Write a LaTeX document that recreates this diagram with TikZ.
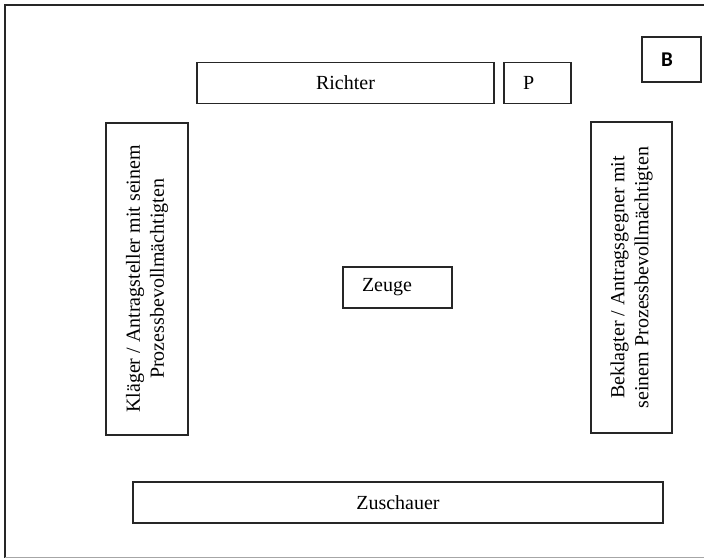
\documentclass[tikz,border=0pt]{standalone}
\usepackage{fontspec}
\setmainfont{Liberation Serif}
\newfontfamily\labelfont{Carlito}
\begin{document}
\begin{tikzpicture}[x=1pt, y=-1pt, line cap=rect, line join=miter,
    room/.style={draw=black!85, line width=1.6pt, inner sep=0pt, font=\fontsize{20}{24}\selectfont},
    leftbox/.style={room, inner xsep=19pt, align=left},
    sidebox/.style={room, rotate=90, align=center}]
    \useasboundingbox (0,0) rectangle (704,559);
    % Rahmen
    \draw[line width=1.6pt, black!85] (5,557) -- (5,5) -- (704,5);
    \draw[line width=0.8pt, black!35] (5,557.6) -- (704,557.6);
    % Richterbank
    \node[room, minimum width=297pt, minimum height=41pt] (richter) at (345.5,83) {Richter};
    \node[leftbox, text width=29pt, minimum height=41pt] (p) at (537.5,83) {P};
    \node[leftbox, text width=21pt, minimum height=45pt, font=\labelfont\fontsize{21}{24}\bfseries] (b) at (671.5,59.5) {B};
    % Parteien
    \node[sidebox, minimum width=312pt, minimum height=82pt] (klaeger) at (147,279)
        {Kläger / Antragsteller mit seinem\\Prozessbevollmächtigten};
    \node[sidebox, minimum width=311pt, minimum height=81pt] (beklagter) at (631.5,277.5)
        {Beklagter / Antragsgegner mit\\seinem Prozessbevollmächtigten};
    \node[leftbox, text width=71pt, minimum height=41pt] (zeuge) at (397.5,287.5) {Zeuge};
    \node[room, minimum width=530pt, minimum height=41pt] (zuschauer) at (398,502.5) {Zuschauer};
\end{tikzpicture}
\end{document}
